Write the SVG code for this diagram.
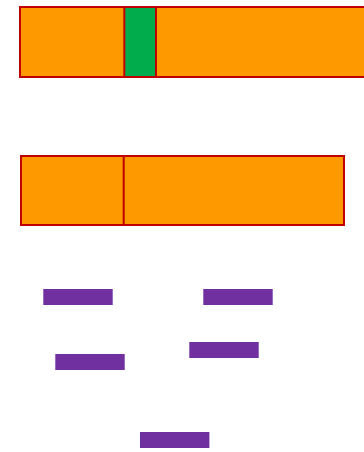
<svg xmlns="http://www.w3.org/2000/svg" width="364" height="452" viewBox="0 0 364 452">
<style>
.bar{fill:#FF9900;stroke:#C00000;stroke-width:2}
.green{fill:#00AC4C;stroke:#C00000;stroke-width:2}
.div{stroke:#C00000;stroke-width:2}
.p{fill:#7030A0}
</style>
<rect width="364" height="452" fill="#FFFFFF"/>
<g id="bar1">
<rect class="bar" x="20" y="7" width="350" height="70"/>
<rect class="green" x="124.3" y="7" width="31.7" height="70"/>
</g>
<g id="bar2">
<rect class="bar" x="21" y="156" width="323" height="69"/>
<line class="div" x1="123.7" y1="156" x2="123.7" y2="225"/>
</g>
<g id="p1"><rect class="p" x="43.3" y="289" width="69.4" height="16"/></g>
<g id="p2"><rect class="p" x="203.3" y="289" width="69.4" height="16"/></g>
<g id="p3"><rect class="p" x="189.3" y="342" width="69.4" height="16"/></g>
<g id="p4"><rect class="p" x="55.3" y="354" width="69.4" height="16"/></g>
<g id="p5"><rect class="p" x="140" y="432" width="69.4" height="16"/></g>
<g id="connectors"></g>
</svg>
